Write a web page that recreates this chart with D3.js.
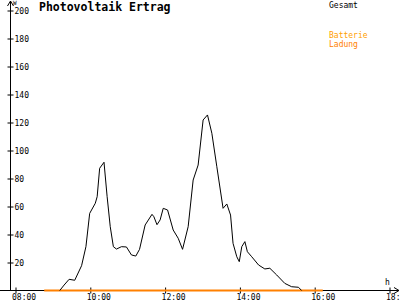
<!DOCTYPE html>
<html>
<head>
<meta charset="utf-8">
<script src="https://cdn.jsdelivr.net/npm/d3@7"></script>
<style>
    body { margin: 0; background: #fff; }
    svg text { font-family: "DejaVu Sans Mono", monospace; }
</style>
</head>
<body>
<div id="chart"></div>
<script>
// Gesamt (W)
const gesamtTimes = ["09:11","09:18","09:26","09:35","09:46","09:53","09:59","10:08","10:11","10:15",
    "10:22","10:27","10:32","10:37","10:42","10:50","10:58","11:06","11:13","11:19",
    "11:28","11:39","11:42","11:47","11:52","11:57","12:04","12:13","12:21","12:28",
    "12:37","12:45","12:53","13:01","13:08","13:15","13:23","13:33","13:39","13:45",
    "13:49","13:55","13:59","14:03","14:08","14:12","14:19","14:30","14:40","14:48",
    "14:59","15:12","15:23","15:34","15:39"];
const gesamtValues = [0, 3.9, 8.0, 7.3, 17.7, 31.3, 55.1, 62.3, 67.0, 87.3,
    91.6, 67.0, 45.6, 31.3, 29.6, 31.3, 31.1, 25.4, 24.6, 29.4,
    46.8, 54.4, 52.7, 47.0, 50.4, 58.7, 57.5, 43.2, 37.3, 29.4,
    45.6, 78.9, 89.6, 121.8, 125.4, 112.3, 88.4, 58.7, 61.8, 53.9,
    33.7, 24.1, 20.6, 31.3, 34.9, 27.7, 24.1, 18.2, 15.4, 15.9,
    11.1, 5.1, 2.7, 2.3, 0];

// Batterie Ladung
const ladungTimes = ["08:46", "16:13"];
const ladungValues = [0, 0];

const xTickLabels = ["08:00", "10:00", "12:00", "14:00", "16:00", "18:00"];
const yTickValues = [20, 40, 60, 80, 100, 120, 140, 160, 180, 200];

const parseTime = d3.timeParse("%H:%M");

class YieldChart {
    constructor(parentElement) {
        let vis = this;
        vis.parentElement = parentElement;
        vis.width = 400;
        vis.height = 300;
        vis.gesamt = gesamtTimes.map((t, i) => ({ date: parseTime(t), value: gesamtValues[i] }));
        vis.ladung = ladungTimes.map((t, i) => ({ date: parseTime(t), value: ladungValues[i] }));
        vis.initVis();
    }

    initVis() {
        let vis = this;

        vis.svg = d3.select(`#${vis.parentElement}`)
            .append("svg")
            .attr("width", vis.width)
            .attr("height", vis.height);

        vis.x = d3.scaleTime()
            .domain([parseTime("08:00"), parseTime("18:00")])
            .range([15.5, 389.5]);

        vis.y = d3.scaleLinear()
            .domain([0, 200])
            .range([290.5, 10.5]);

        vis.axisX = 10.5;
        vis.axisY = vis.y(0);

        vis.drawAxes();
        vis.drawLines();
        vis.drawLabels();
    }

    drawAxes() {
        let vis = this;

        // y axis: ticks cross the line, labels on the right
        const yAxis = d3.axisRight(vis.y)
            .tickValues(yTickValues)
            .tickFormat(d3.format("d"))
            .tickSize(3);

        const yG = vis.svg.append("g")
            .attr("transform", `translate(${vis.axisX},0)`)
            .call(yAxis);
        yG.select(".domain").remove();
        yG.selectAll(".tick line").attr("x1", -3).attr("stroke", "#000");
        yG.selectAll(".tick text")
            .attr("x", 4)
            .attr("dy", "0.32em")
            .style("font-size", "8px")
            .attr("fill", "#000");

        // x axis: ticks every 2 hours, labels start just left of tick
        const xAxis = d3.axisBottom(vis.x)
            .tickValues(xTickLabels.map(parseTime))
            .tickFormat(d3.timeFormat("%H:%M"))
            .tickSize(3);

        const xG = vis.svg.append("g")
            .attr("transform", `translate(0,${vis.axisY})`)
            .call(xAxis);
        xG.select(".domain").remove();
        xG.selectAll(".tick line").attr("y1", -3).attr("stroke", "#000");
        xG.selectAll(".tick text")
            .attr("x", -4)
            .attr("y", 9)
            .attr("dy", 0)
            .style("text-anchor", "start")
            .style("font-size", "8px")
            .attr("fill", "#000");

        // axis lines with arrow heads
        vis.svg.append("line")
            .attr("x1", 0).attr("x2", 399)
            .attr("y1", vis.axisY).attr("y2", vis.axisY)
            .attr("stroke", "#000");
        vis.svg.append("path")
            .attr("d", `M394,${vis.axisY - 3}L399,${vis.axisY}L394,${vis.axisY + 3}`)
            .attr("fill", "none")
            .attr("stroke", "#000");

        vis.svg.append("line")
            .attr("x1", vis.axisX).attr("x2", vis.axisX)
            .attr("y1", vis.axisY).attr("y2", 1)
            .attr("stroke", "#000");
        vis.svg.append("path")
            .attr("d", `M${vis.axisX - 3},6L${vis.axisX},1L${vis.axisX + 3},6`)
            .attr("fill", "none")
            .attr("stroke", "#000");

        // unit labels
        vis.svg.append("text")
            .attr("x", 13).attr("y", 5)
            .style("font-size", "6px")
            .text("W");
        vis.svg.append("text")
            .attr("x", 385).attr("y", 285)
            .style("font-size", "8px")
            .text("h");
    }

    drawLines() {
        let vis = this;

        const line = d3.line()
            .x(d => vis.x(d.date))
            .y(d => vis.y(d.value));

        vis.svg.append("path")
            .datum(vis.ladung)
            .attr("fill", "none")
            .attr("stroke", "#ff8000")
            .attr("stroke-width", 2)
            .attr("d", line);

        vis.svg.append("path")
            .datum(vis.gesamt)
            .attr("fill", "none")
            .attr("stroke", "#000")
            .attr("stroke-width", 1)
            .attr("d", line);
    }

    drawLabels() {
        let vis = this;

        vis.svg.append("text")
            .attr("x", 39).attr("y", 11)
            .style("font-size", "11.5px")
            .style("font-weight", "bold")
            .text("Photovoltaik Ertrag");

        vis.svg.append("text")
            .attr("x", 329).attr("y", 7.5)
            .style("font-size", "8px")
            .text("Gesamt");

        vis.svg.append("text")
            .attr("x", 329).attr("y", 38)
            .style("font-size", "8px")
            .attr("fill", "#ffa000")
            .text("Batterie");

        vis.svg.append("text")
            .attr("x", 329).attr("y", 47)
            .style("font-size", "8px")
            .attr("fill", "#ff8000")
            .text("Ladung");
    }
}

new YieldChart("chart");
</script>
</body>
</html>
